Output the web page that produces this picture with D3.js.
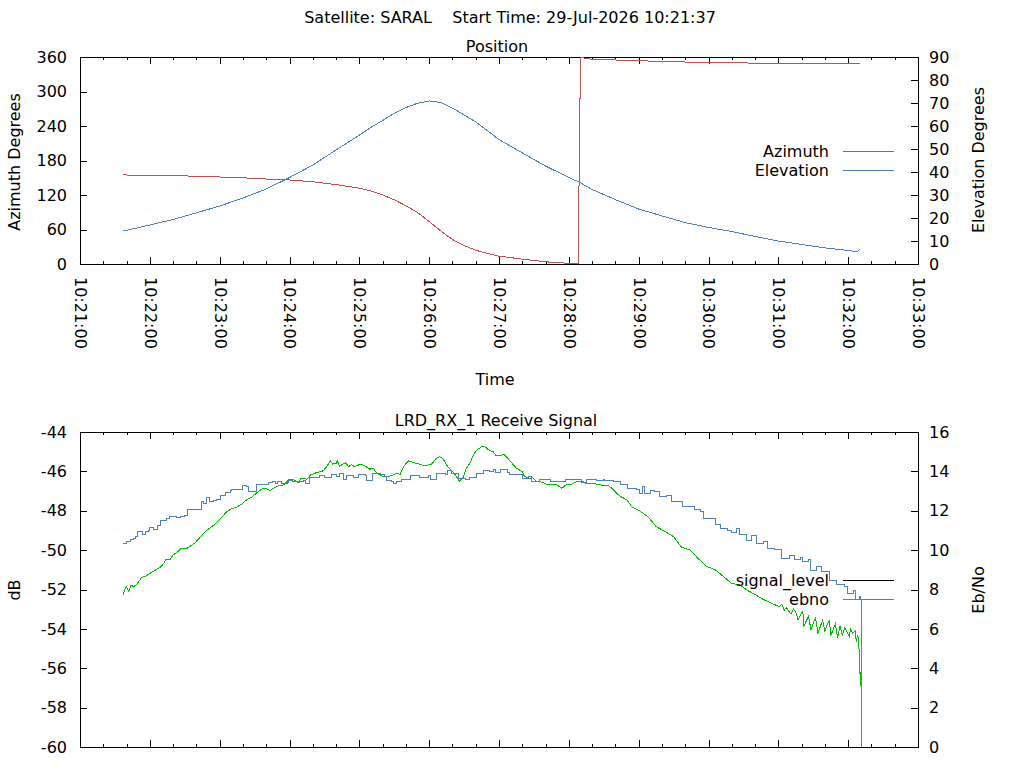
<!DOCTYPE html>
<html>
<head>
<meta charset="utf-8">
<script src="https://cdn.jsdelivr.net/npm/d3@7"></script>
<style>
  body { margin: 0; background: #fff; }
  svg { font-family: "DejaVu Sans", sans-serif; font-size: 16px; }
</style>
</head>
<body>
<svg id="chart" width="1024" height="768"></svg>
<script>
// pass start reference, seconds are counted from 10:21:00
const T0 = new Date(2026, 6, 29, 10, 21, 0);
const at = s => new Date(T0.getTime() + s * 1000);

// Position panel (seconds after 10:21:00)
const posSec = [37, 40, 60, 80, 100, 120, 140, 160, 180, 200, 220, 240,
  250, 260, 270, 280, 290, 300, 310, 320, 330, 340, 350, 360,
  380, 400, 420, 428, 429, 430,
  440, 460, 480, 500, 520, 540, 560, 580, 600, 620, 640, 660, 668, 670];
const azimuth = [156.0, 154.8, 153.9, 153.6, 152.7, 151.3, 149.9, 147.8, 146.1, 143.1, 138.1, 131.8,
  127.0, 120.0, 111.7, 101.2, 89.6, 73.9, 57.4, 42.6, 32.2, 24.0, 18.3, 13.6,
  8.5, 3.8, 1.2, 0.9, 179.1, 359.1,
  356.0, 354.8, 353.4, 352.5, 351.3, 350.6, 349.9, 349.4, 349.0, 348.6, 348.3, 348.0, 347.9, 347.8];
const elevation = [14.35, 14.65, 16.96, 19.35, 22.26, 25.2, 28.7, 32.6, 37.6, 43.0, 49.6, 56.0,
  59.4, 62.4, 65.5, 68.0, 69.9, 70.9, 70.2, 67.8, 64.8, 61.8, 58.0, 54.1,
  48.3, 42.6, 37.6, 35.8, 35.6, 35.3,
  32.4, 28.0, 23.9, 20.9, 18.0, 15.9, 14.1, 12.0, 10.0, 8.5, 7.0, 5.9, 5.35, 6.5];

// Receive signal panel
const sigSec = [
  37, 39, 40, 42, 44, 46, 49, 53, 56, 60,
  64, 69, 72, 74, 77, 80, 84, 87, 92, 95,
  99, 103, 106, 110, 115, 119, 122, 126, 130, 135,
  139, 143, 148, 152, 155, 157, 160, 163, 166, 170,
  175, 179, 183, 188, 190, 195, 198, 203, 209, 212,
  215, 217, 220, 221, 223, 228, 231, 233, 236, 241,
  245, 249, 252, 255, 261, 265, 269, 272, 275, 278,
  282, 286, 292, 296, 302, 306, 309, 312, 316, 321,
  326, 329, 332, 335, 338, 341, 345, 348, 351, 355,
  357, 362, 364, 368, 372, 375, 380, 382, 387, 389,
  392, 397, 401, 405, 410, 414, 418, 422, 427, 431,
  435, 440, 445, 450, 454, 457, 461, 465, 470, 474,
  478, 483, 488, 495, 503, 510, 517, 524, 531, 538,
  546, 553, 560, 567, 573, 578, 587, 594, 601, 603,
  605, 607, 609, 611, 613, 615, 617, 619, 621, 622,
  624, 626, 628, 630, 632, 634, 636, 638, 640, 642,
  644, 645, 647, 649, 651, 653, 655, 657, 659, 661,
  662, 664, 666, 667, 668, 669, 670.6, 671];
const signalLevel = [
  -52.28, -51.94, -51.86, -52.11, -51.77, -51.86, -51.72, -51.38, -51.35, -51.18,
  -51.04, -50.87, -50.67, -50.47, -50.50, -50.25, -50.08, -49.91, -49.91, -49.79,
  -49.62, -49.35, -49.15, -48.94, -48.72, -48.51, -48.33, -48.05, -47.91, -47.80,
  -47.66, -47.45, -47.29, -47.08, -46.95, -46.88, -46.86, -46.98, -46.86, -46.74,
  -46.69, -46.44, -46.40, -46.58, -46.34, -46.40, -46.18, -46.07, -45.97, -45.76,
  -45.46, -45.63, -45.59, -45.46, -45.73, -45.56, -45.76, -45.66, -45.76, -45.63,
  -45.73, -45.89, -45.84, -46.10, -46.27, -46.27, -46.18, -46.10, -46.15, -45.76,
  -45.47, -45.54, -45.64, -45.71, -45.64, -45.34, -45.25, -45.37, -45.76, -46.05,
  -46.49, -46.32, -45.84, -45.59, -45.17, -44.91, -44.75, -44.75, -44.91, -45.00,
  -45.17, -45.20, -45.13, -45.37, -45.64, -45.84, -46.02, -46.27, -46.35, -46.32,
  -46.49, -46.55, -46.66, -46.69, -46.69, -46.86, -46.66, -46.66, -46.52, -46.49,
  -46.61, -46.61, -46.66, -46.73, -46.73, -46.86, -47.11, -47.29, -47.45, -47.80,
  -47.91, -48.09, -48.30, -48.81, -49.06, -49.32, -49.86, -49.99, -50.42, -50.81,
  -51.01, -51.35, -51.69, -51.77, -52.03, -52.19, -52.50, -52.70, -52.87, -52.75,
  -53.05, -52.92, -53.10, -53.25, -53.00, -53.15, -53.55, -53.30, -53.10, -53.85,
  -53.60, -53.35, -54.05, -53.70, -53.45, -54.20, -53.90, -53.55, -54.15, -53.75,
  -53.60, -54.35, -54.05, -53.75, -54.45, -53.85, -54.30, -53.95, -54.14, -54.40,
  -54.00, -54.22, -54.10, -54.65, -54.30, -54.57, -56.90, -56.19];

const ebSec = [
  37, 40, 43, 46, 48, 49, 54, 56, 59, 60,
  63, 67, 69, 74, 77, 80, 83, 86, 90, 92,
  104, 106, 109, 111, 115, 117, 121, 125, 129, 130,
  140, 143, 145, 152, 162, 165, 168, 170, 173, 178,
  179, 183, 192, 194, 197, 206, 210, 216, 220, 223,
  226, 229, 235, 239, 245, 246, 251, 256, 258, 262,
  263, 268, 269, 272, 276, 284, 292, 299, 301, 306,
  314, 316, 319, 325, 331, 335, 341, 347, 352, 355,
  357, 361, 367, 369, 380, 385, 388, 395, 404, 417,
  431, 435, 444, 450, 451, 458, 464, 470, 478, 481,
  483, 485, 490, 494, 498, 504, 508, 518, 524, 528,
  533, 536, 546, 550, 556, 560, 564, 567, 573, 577,
  581, 587, 591, 597, 603, 610, 614, 619, 621, 626,
  628, 633, 637, 644, 650, 657, 659, 665, 666, 670,
  671, 671.8];
const ebno = [
  10.35, 10.43, 10.55, 10.60, 10.68, 10.94, 10.77, 10.94, 10.99, 11.16,
  11.06, 11.23, 11.53, 11.62, 11.70, 11.73, 11.67, 11.73, 11.78, 12.07,
  12.46, 12.38, 12.68, 12.46, 12.51, 12.58, 12.75, 12.92, 13.02, 13.09,
  13.27, 13.22, 13.00, 13.31, 13.42, 13.48, 13.39, 13.48, 13.39, 13.42,
  13.53, 13.48, 13.53, 13.39, 13.70, 13.77, 13.70, 13.82, 13.73, 13.90,
  13.60, 13.77, 13.70, 13.82, 13.77, 13.53, 13.90, 13.87, 13.82, 13.73,
  13.56, 13.51, 13.39, 13.51, 13.61, 13.78, 13.68, 13.78, 13.61, 13.90,
  13.85, 14.02, 13.90, 13.65, 13.61, 13.68, 13.90, 14.02, 13.98, 14.07,
  13.95, 14.07, 13.95, 13.82, 13.65, 13.73, 13.51, 13.61, 13.48, 13.61,
  13.45, 13.61, 13.56, 13.61, 13.56, 13.48, 13.31, 13.14, 13.09, 12.89,
  13.22, 12.89, 13.05, 12.97, 12.71, 12.75, 12.46, 12.24, 12.21, 12.04,
  11.95, 11.62, 11.28, 11.11, 11.02, 10.89, 11.11, 10.77, 10.51, 10.72,
  10.35, 10.43, 10.09, 10.01, 9.58, 9.75, 9.53, 9.64, 9.41, 9.50,
  8.99, 9.16, 8.90, 8.48, 8.23, 8.14, 7.81, 7.97, 7.47, 7.65,
  7.47, 0];

const azTicks = [0, 60, 120, 180, 240, 300, 360];
const elTicks = [0, 10, 20, 30, 40, 50, 60, 70, 80, 90];
const dbTicks = [-60, -58, -56, -54, -52, -50, -48, -46, -44];
const ebTicks = [0, 2, 4, 6, 8, 10, 12, 14, 16];

const RED = "#c0504d", BLUE = "#4f81bd", GREEN = "#00c000";

const svg = d3.select("#chart");

const x = d3.scaleTime().domain([at(0), at(720)]).range([80, 918]);
const fmt = d3.timeFormat("%H:%M:%S");

// frame + ticks for one panel
function drawFrame(top, bottom, withLabels) {
  const g = svg.append("g").attr("shape-rendering", "crispEdges");

  const axes = [
    [d3.axisBottom, bottom],
    [d3.axisTop, top]
  ];
  axes.forEach(([fn, yPos]) => {
    g.append("g")
      .attr("transform", `translate(0,${yPos})`)
      .call(fn(x).ticks(d3.timeSecond.every(20)).tickSize(-3).tickSizeOuter(0).tickFormat(""))
      .call(a => a.select(".domain").remove());
    const major = g.append("g")
      .attr("transform", `translate(0,${yPos})`)
      .call(fn(x).ticks(d3.timeMinute.every(1)).tickSize(-7).tickSizeOuter(0)
        .tickFormat(withLabels && fn === d3.axisBottom ? fmt : ""))
      .call(a => a.select(".domain").remove());
    if (withLabels && fn === d3.axisBottom) {
      major.selectAll("text")
        .attr("transform", "rotate(90)")
        .attr("x", 13).attr("y", 0).attr("dy", "0.35em")
        .style("text-anchor", "start")
        .style("font-size", "16px")
        .style("font-family", "DejaVu Sans, sans-serif")
        .attr("fill", "#000");
    }
  });

  g.append("rect")
    .attr("x", 80).attr("y", top)
    .attr("width", 838).attr("height", bottom - top)
    .attr("fill", "none").attr("stroke", "#000");
  return g;
}

function yAxes(yl, yr, lt, rt) {
  const g = svg.append("g").attr("shape-rendering", "crispEdges");
  g.append("g").attr("transform", "translate(80,0)")
    .call(d3.axisLeft(yl).tickValues(lt).tickFormat(String)
      .tickSize(-7).tickSizeOuter(0).tickPadding(13))
    .call(a => a.select(".domain").remove());
  g.append("g").attr("transform", "translate(918,0)")
    .call(d3.axisRight(yr).tickValues(rt).tickFormat(String)
      .tickSize(-7).tickSizeOuter(0).tickPadding(11))
    .call(a => a.select(".domain").remove());
  g.selectAll("text")
    .style("font-size", "16px")
    .style("font-family", "DejaVu Sans, sans-serif")
    .attr("fill", "#000");
}

function label(txt, cx, cy, rot) {
  svg.append("text")
    .attr("transform", `translate(${cx},${cy})` + (rot ? ` rotate(${rot})` : ""))
    .attr("text-anchor", "middle")
    .attr("dy", "0.35em")
    .style("white-space", "pre")
    .text(txt);
}

function legendRow(txt, color, y) {
  svg.append("text").attr("x", 829).attr("y", y).attr("dy", "0.35em")
    .attr("text-anchor", "end").text(txt);
  svg.append("line").attr("x1", 843).attr("x2", 894).attr("y1", y).attr("y2", y)
    .attr("stroke", color).attr("shape-rendering", "crispEdges");
}

function plotLine(gen, n, color) {
  svg.append("path").attr("d", gen(d3.range(n)))
    .attr("fill", "none").attr("stroke", color).attr("stroke-width", 1)
    .attr("shape-rendering", "crispEdges");
}

// ---- top panel: position
const yAz = d3.scaleLinear().domain([0, 360]).range([264, 57]);
const yEl = d3.scaleLinear().domain([0, 90]).range([264, 57]);

drawFrame(57, 264, true);
yAxes(yAz, yEl, azTicks, elTicks);

plotLine(d3.line().x(i => x(at(posSec[i]))).y(i => yAz(azimuth[i])), posSec.length, RED);
plotLine(d3.line().x(i => x(at(posSec[i]))).y(i => yEl(elevation[i])), posSec.length, BLUE);

legendRow("Azimuth", RED, 151);
legendRow("Elevation", BLUE, 170);

// ---- bottom panel: receive signal
const yDb = d3.scaleLinear().domain([-60, -44]).range([747, 432]);
const yEb = d3.scaleLinear().domain([0, 16]).range([747, 432]);

drawFrame(432, 747, false);
yAxes(yDb, yEb, dbTicks, ebTicks);

plotLine(d3.line().x(i => x(at(sigSec[i]))).y(i => yDb(signalLevel[i])), sigSec.length, GREEN);
plotLine(d3.line().curve(d3.curveStepAfter)
  .x(i => x(at(ebSec[i]))).y(i => yEb(ebno[i])), ebSec.length, BLUE);

legendRow("signal_level", "#000", 580);
legendRow("ebno", BLUE, 599);

// ---- titles and axis names
label("Satellite: SARAL    Start Time: 29-Jul-2026 10:21:37", 510, 17);
label("Position", 497, 46);
label("Time", 495, 379);
label("LRD_RX_1 Receive Signal", 496, 420);
label("Azimuth Degrees", 14, 162, -90);
label("Elevation Degrees", 978, 160, -90);
label("dB", 14, 590, -90);
label("Eb/No", 978, 590, -90);
</script>
</body>
</html>
